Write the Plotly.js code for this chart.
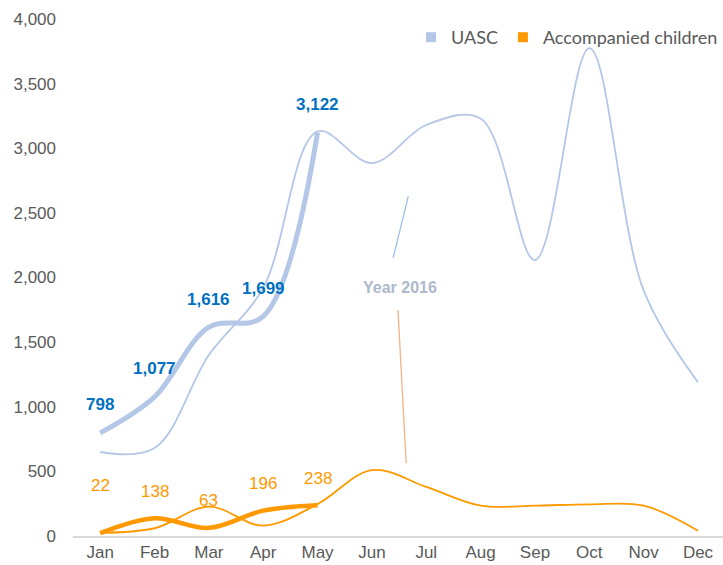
<!DOCTYPE html>
<html>
<head>
<meta charset="utf-8">
<script src="https://cdn.plot.ly/plotly-3.0.1.min.js"></script>
<style>
  html, body { margin: 0; padding: 0; background: #fff; }
  #chart { width: 723px; height: 565px; }
</style>
</head>
<body>
<div id="chart"></div>
<script>
// ---- Data ----
var months = ["Jan","Feb","Mar","Apr","May","Jun","Jul","Aug","Sep","Oct","Nov","Dec"];
var months2017 = ["Jan","Feb","Mar","Apr","May"];
var uasc2016 = [650, 680, 1400, 1920, 3130, 2885, 3180, 3230, 2135, 3775, 1900, 1190];
var accomp2016 = [25, 60, 227, 80, 247, 510, 380, 235, 235, 245, 235, 41];
var uasc2017 = [798, 1077, 1616, 1699, 3122];
var accomp2017 = [22, 138, 63, 196, 238];

// ---- Styles ----
var blueLine = "#B4C7E7";
var orangeLine = "#FF9900";
var blueLabel = "#0070C0";
var orangeLabel = "#FF9900";
var tickColor = "#595959";
var baseFont = "Liberation Sans, Arial, sans-serif";
var orangeLabelShift = [48, 27, 27, 27, 27];

var traces = [
  { x: months, y: uasc2016, type: "scatter", mode: "lines",
    line: { color: blueLine, width: 1.8, shape: "spline", smoothing: 1 },
    showlegend: false, hoverinfo: "skip" },
  { x: months, y: accomp2016, type: "scatter", mode: "lines",
    line: { color: orangeLine, width: 1.8, shape: "spline", smoothing: 1 },
    showlegend: false, hoverinfo: "skip" },
  { x: months2017, y: uasc2017, type: "scatter", mode: "lines",
    line: { color: blueLine, width: 5, shape: "spline", smoothing: 1 },
    showlegend: false, hoverinfo: "skip" },
  { x: months2017, y: accomp2017, type: "scatter", mode: "lines",
    line: { color: orangeLine, width: 4.5, shape: "spline", smoothing: 1 },
    showlegend: false, hoverinfo: "skip" },
  // legend entries
  { x: [null], y: [null], type: "scatter", mode: "markers", name: "UASC",
    marker: { symbol: "square", size: 10, color: blueLine }, showlegend: true },
  { x: [null], y: [null], type: "scatter", mode: "markers", name: "Accompanied children",
    marker: { symbol: "square", size: 10, color: orangeLine }, showlegend: true }
];

var annotations = [];
months2017.forEach(function (m, i) {
  annotations.push({
    x: m, y: uasc2017[i], xref: "x", yref: "y",
    text: uasc2017[i].toLocaleString("en-US"),
    showarrow: false, yshift: 28,
    font: { family: baseFont, size: 17, color: blueLabel, weight: "bold" }
  });
  annotations.push({
    x: m, y: accomp2017[i], xref: "x", yref: "y",
    text: accomp2017[i].toLocaleString("en-US"),
    showarrow: false, yshift: orangeLabelShift[i],
    font: { family: baseFont, size: 17, color: orangeLabel }
  });
});
annotations.push({
  x: 5.52, y: 1926, xref: "x", yref: "y", text: "<b>Year 2016</b>",
  showarrow: false, font: { family: baseFont, size: 16, color: "#ADB9CA" }
});

var layout = {
  width: 723, height: 565,
  margin: { l: 73, r: 0, t: 19, b: 29 },
  paper_bgcolor: "#fff", plot_bgcolor: "#fff",
  font: { family: baseFont, color: tickColor, size: 17 },
  xaxis: {
    type: "category", categoryarray: months, range: [-0.5, 11.46],
    showgrid: false, zeroline: false, showline: true,
    linecolor: "#D9D9D9", linewidth: 2, ticks: "",
    ticklabelstandoff: 0,
    tickfont: { family: baseFont, size: 17, color: tickColor }
  },
  yaxis: {
    range: [0, 4000], dtick: 500, tickformat: ",",
    showgrid: false, zeroline: false, showline: false, ticks: "",
    ticklabelstandoff: 16,
    tickfont: { family: baseFont, size: 17, color: tickColor }
  },
  showlegend: true,
  legend: {
    orientation: "h", x: 1, xanchor: "right", y: 1.0, yanchor: "top",
    font: { family: "Lato, Liberation Sans, sans-serif", size: 18, color: tickColor },
    itemwidth: 30, bgcolor: "rgba(0,0,0,0)"
  },
  shapes: [
    { type: "line", xref: "x", yref: "y", x0: 5.39, y0: 2150, x1: 5.67, y1: 2630,
      line: { color: "#9DC3E6", width: 1.3 } },
    { type: "line", xref: "x", yref: "y", x0: 5.48, y0: 1748, x1: 5.63, y1: 565,
      line: { color: "#F4B183", width: 1.3 } }
  ],
  annotations: annotations
};

Plotly.newPlot("chart", traces, layout, { displayModeBar: false, staticPlot: true });
</script>
</body>
</html>
